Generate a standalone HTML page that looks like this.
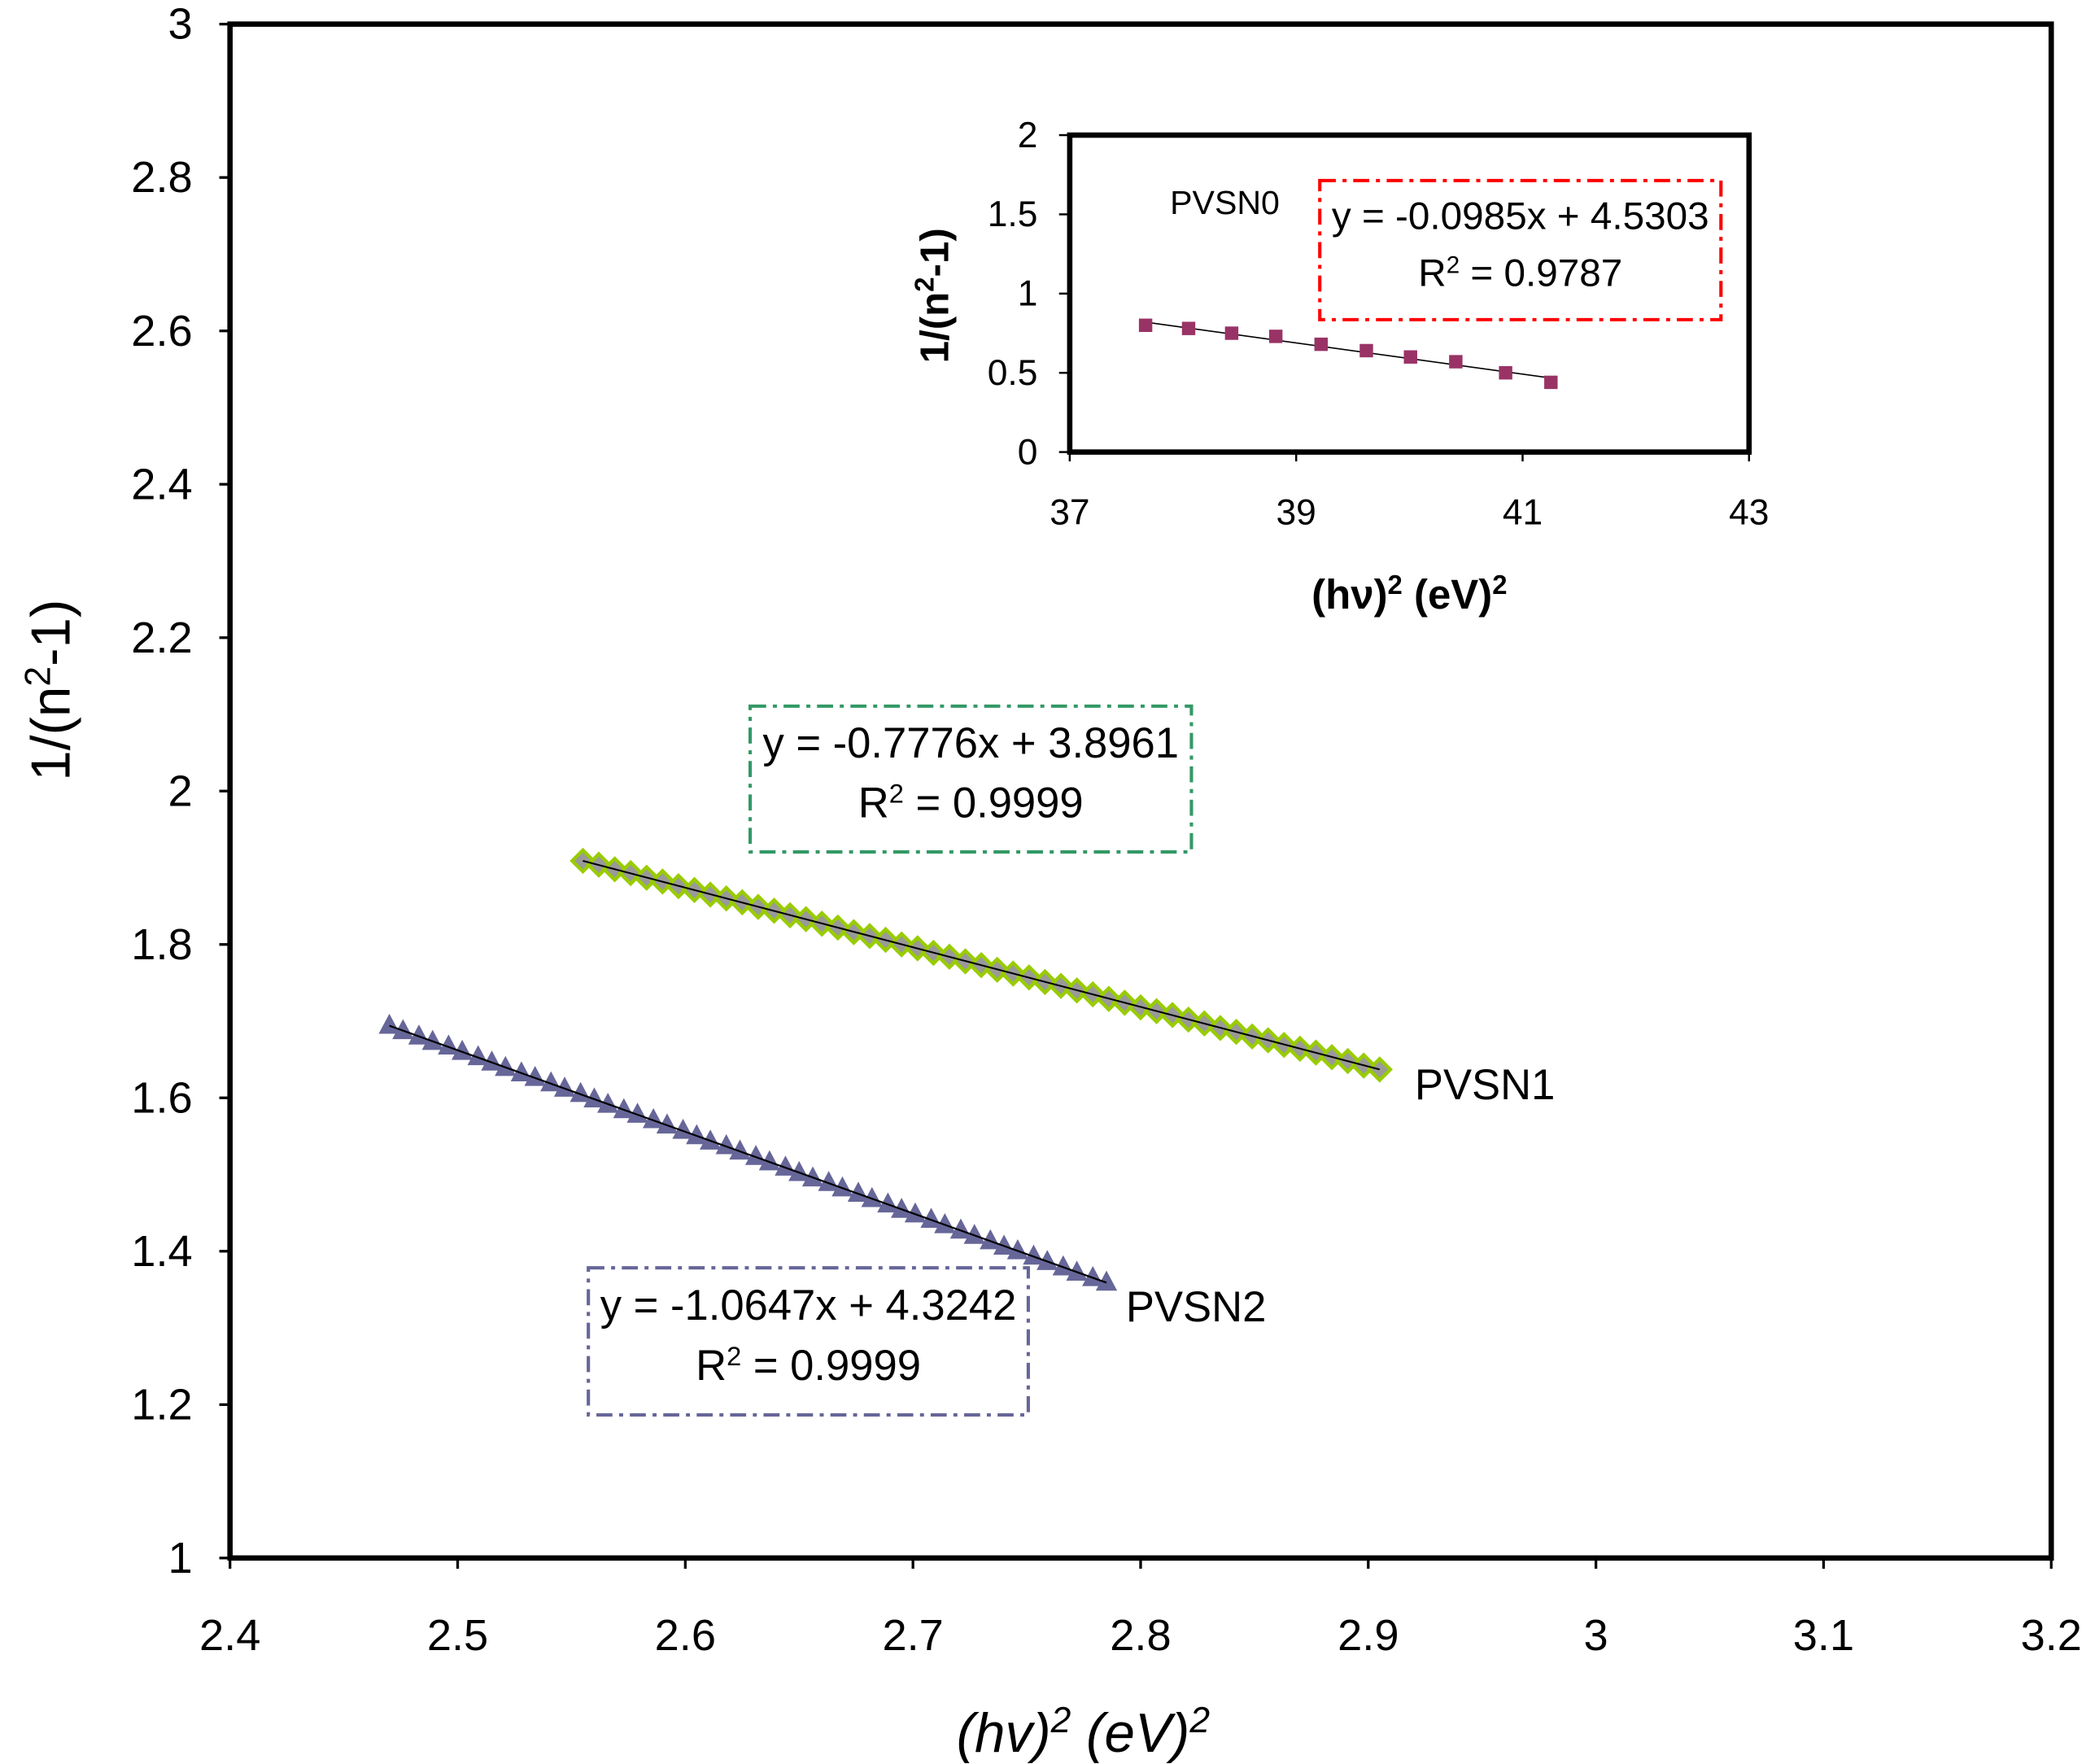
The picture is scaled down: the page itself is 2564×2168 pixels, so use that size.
<!DOCTYPE html>
<html><head><meta charset="utf-8"><style>html,body{margin:0;padding:0;background:#fff}svg{display:block}text{font-family:"Liberation Sans",Arial,sans-serif}</style></head>
<body>
<svg id="chart" width="2564" height="2168" viewBox="0 0 1560 1319" xmlns="http://www.w3.org/2000/svg">
<g id="main"></g>
<g id="inset"></g>
</svg>
<script>
const xTicks=[2.4,2.5,2.6,2.7,2.8,2.9,3,3.1,3.2];
const yTicks=[1,1.2,1.4,1.6,1.8,2,2.2,2.4,2.6,2.8,3];
const pvsn1X=[2.555,2.562,2.569,2.576,2.583,2.590,2.597,2.604,2.611,2.618,2.625,2.632,2.639,2.646,2.653,2.660,2.667,2.674,2.681,2.688,2.695,2.702,2.709,2.716,2.723,2.730,2.737,2.744,2.751,2.758,2.765,2.772,2.779,2.786,2.793,2.800,2.807,2.814,2.821,2.828,2.835,2.842,2.849,2.856,2.863,2.870,2.877,2.884,2.891,2.898,2.905];
const pvsn1Y=[1.909,1.904,1.898,1.893,1.887,1.882,1.876,1.871,1.865,1.860,1.855,1.849,1.844,1.838,1.833,1.827,1.822,1.816,1.811,1.806,1.800,1.795,1.789,1.784,1.778,1.773,1.767,1.762,1.757,1.751,1.746,1.740,1.735,1.729,1.724,1.718,1.713,1.708,1.702,1.697,1.691,1.686,1.680,1.675,1.669,1.664,1.659,1.653,1.648,1.642,1.637];
const pvsn2X=[2.470,2.476,2.483,2.489,2.496,2.502,2.509,2.515,2.521,2.528,2.534,2.541,2.547,2.554,2.560,2.566,2.573,2.579,2.586,2.592,2.599,2.605,2.611,2.618,2.624,2.631,2.637,2.644,2.650,2.656,2.663,2.669,2.676,2.682,2.689,2.695,2.701,2.708,2.714,2.721,2.727,2.734,2.740,2.746,2.753,2.759,2.766,2.772,2.779,2.785];
const pvsn2Y=[1.694,1.687,1.680,1.673,1.667,1.660,1.653,1.646,1.639,1.632,1.626,1.619,1.612,1.605,1.598,1.591,1.584,1.578,1.571,1.564,1.557,1.550,1.543,1.537,1.530,1.523,1.516,1.509,1.502,1.495,1.489,1.482,1.475,1.468,1.461,1.454,1.448,1.441,1.434,1.427,1.420,1.413,1.406,1.400,1.393,1.386,1.379,1.372,1.365,1.359];
const insetXTicks=[37,39,41,43];
const insetYTicks=[0,0.5,1,1.5,2];
const pvsn0X=[37.67,38.05,38.43,38.82,39.22,39.62,40.01,40.41,40.85,41.25];
const pvsn0Y=[0.80,0.78,0.75,0.73,0.68,0.64,0.60,0.57,0.50,0.44];

const NS='http://www.w3.org/2000/svg';
function mk(parent,tag,attrs,txt){const e=document.createElementNS(NS,tag);for(const k in attrs)e.setAttribute(k,attrs[k]);if(txt!==undefined)e.textContent=txt;parent.appendChild(e);return e;}
const X=v=>172+(v-2.4)/0.8*1362, Y=v=>1165-(v-1)/2*1147;
const IX=v=>800+(v-37)/6*508, IY=v=>338-v/2*237;
const main=document.getElementById('main'), inset=document.getElementById('inset');

let e=mk(main,'rect',{x:172,y:18,width:1362,height:1147,fill:'none',stroke:'#000','stroke-width':4});


xTicks.forEach(t=>{mk(main,'line',{x1:X(t),x2:X(t),y1:1165,y2:1173,stroke:'#000','stroke-width':2});
 e=mk(main,'text',{x:X(t),y:1234,'font-size':33,'text-anchor':'middle'},String(t));
 
 });
yTicks.forEach(t=>{mk(main,'line',{x1:164,x2:172,y1:Y(t),y2:Y(t),stroke:'#000','stroke-width':2});
 e=mk(main,'text',{x:144,y:Y(t)+11,'font-size':33,'text-anchor':'end'},String(t));
 
 });
e=mk(main,'text',{x:810,y:1310,'font-size':41,'font-style':'italic','text-anchor':'middle'});
e.innerHTML='(hv)<tspan baseline-shift="super" font-size="27">2</tspan> (eV)<tspan baseline-shift="super" font-size="27">2</tspan>';


e=mk(main,'text',{transform:'translate(52,516) rotate(-90)','font-size':41,'text-anchor':'middle'});
e.innerHTML='1/(n<tspan baseline-shift="super" font-size="27">2</tspan>-1)';



// PVSN1 diamonds
pvsn1X.forEach((x,i)=>{const cx=X(x),cy=Y(pvsn1Y[i]);
 e=mk(main,'polygon',{points:`${cx},${cy-8} ${cx+8},${cy} ${cx},${cy+8} ${cx-8},${cy}`,fill:'#999999',stroke:'#99cc00','stroke-width':2.6});
 
 });
e=mk(main,'line',{x1:X(pvsn1X[0]),y1:Y(pvsn1Y[0]),x2:X(pvsn1X[pvsn1X.length-1]),y2:Y(pvsn1Y[pvsn1Y.length-1]),stroke:'#000','stroke-width':1.3});


// PVSN2 triangles
pvsn2X.forEach((x,i)=>{const cx=X(x),cy=Y(pvsn2Y[i]);
 e=mk(main,'polygon',{points:`${cx},${cy-9} ${cx+8},${cy+6} ${cx-8},${cy+6}`,fill:'#666699'});
 
 });
e=mk(main,'line',{x1:X(pvsn2X[0]),y1:Y(pvsn2Y[0]),x2:X(pvsn2X[pvsn2X.length-1]),y2:Y(pvsn2Y[pvsn2Y.length-1]),stroke:'#000','stroke-width':1.3});



e=mk(main,'text',{x:1058,y:822,'font-size':32},'PVSN1');


e=mk(main,'text',{x:842,y:988,'font-size':32},'PVSN2');



function eqBox(g,x,y,w,h,color,l1,r2,name,fs){
 e=mk(g,'rect',{x:x,y:y,width:w,height:h,fill:'#fff',stroke:color,'stroke-width':2.5,'stroke-dasharray':'12,5,3,5'});
 
 
 e=mk(g,'text',{x:x+w/2,y:y+h*0.25+fs*0.35,'font-size':fs,'text-anchor':'middle'},l1);
 
 
 e=mk(g,'text',{x:x+w/2,y:y+h*0.66+fs*0.35,'font-size':fs,'text-anchor':'middle'});
 e.innerHTML='R<tspan baseline-shift="super" font-size="'+(fs*0.62)+'">2</tspan> = '+r2;
 
 }
eqBox(main,561,528,330,109,'#339966','y = -0.7776x + 3.8961','0.9999','pvsn1-fit',32);
eqBox(main,440,948,329,110,'#666699','y = -1.0647x + 4.3242','0.9999','pvsn2-fit',32);

// inset
e=mk(inset,'rect',{x:800,y:101,width:508,height:237,fill:'#fff',stroke:'#000','stroke-width':4});


insetXTicks.forEach(t=>{mk(inset,'line',{x1:IX(t),x2:IX(t),y1:338,y2:345,stroke:'#000','stroke-width':1.5});
 e=mk(inset,'text',{x:IX(t),y:392,'font-size':27,'text-anchor':'middle'},String(t));
 
 });
insetYTicks.forEach(t=>{mk(inset,'line',{x1:792,x2:800,y1:IY(t),y2:IY(t),stroke:'#000','stroke-width':1.5});
 e=mk(inset,'text',{x:776,y:IY(t)+9,'font-size':27,'text-anchor':'end'},String(t));
 
 });
e=mk(inset,'text',{x:1054,y:455,'font-size':31,'font-weight':'bold','text-anchor':'middle'});
e.innerHTML='(hν)<tspan baseline-shift="super" font-size="20">2</tspan> (eV)<tspan baseline-shift="super" font-size="20">2</tspan>';


e=mk(inset,'text',{transform:'translate(709,221) rotate(-90)','font-size':30,'font-weight':'bold','text-anchor':'middle'});
e.innerHTML='1/(n<tspan baseline-shift="super" font-size="20">2</tspan>-1)';


e=mk(inset,'line',{x1:IX(37.67),y1:IY(-0.0985*37.67+4.5303),x2:IX(41.25),y2:IY(-0.0985*41.25+4.5303),stroke:'#000','stroke-width':1});


pvsn0X.forEach((x,i)=>{e=mk(inset,'rect',{x:IX(x)-5,y:IY(pvsn0Y[i])-5,width:10,height:10,fill:'#993366'});
 
 });
e=mk(inset,'text',{x:875,y:160,'font-size':25},'PVSN0');


eqBox(inset,987,135,300,104,'#ff0000','y = -0.0985x + 4.5303','0.9787','pvsn0-fit',29);
</script>
</body></html>
